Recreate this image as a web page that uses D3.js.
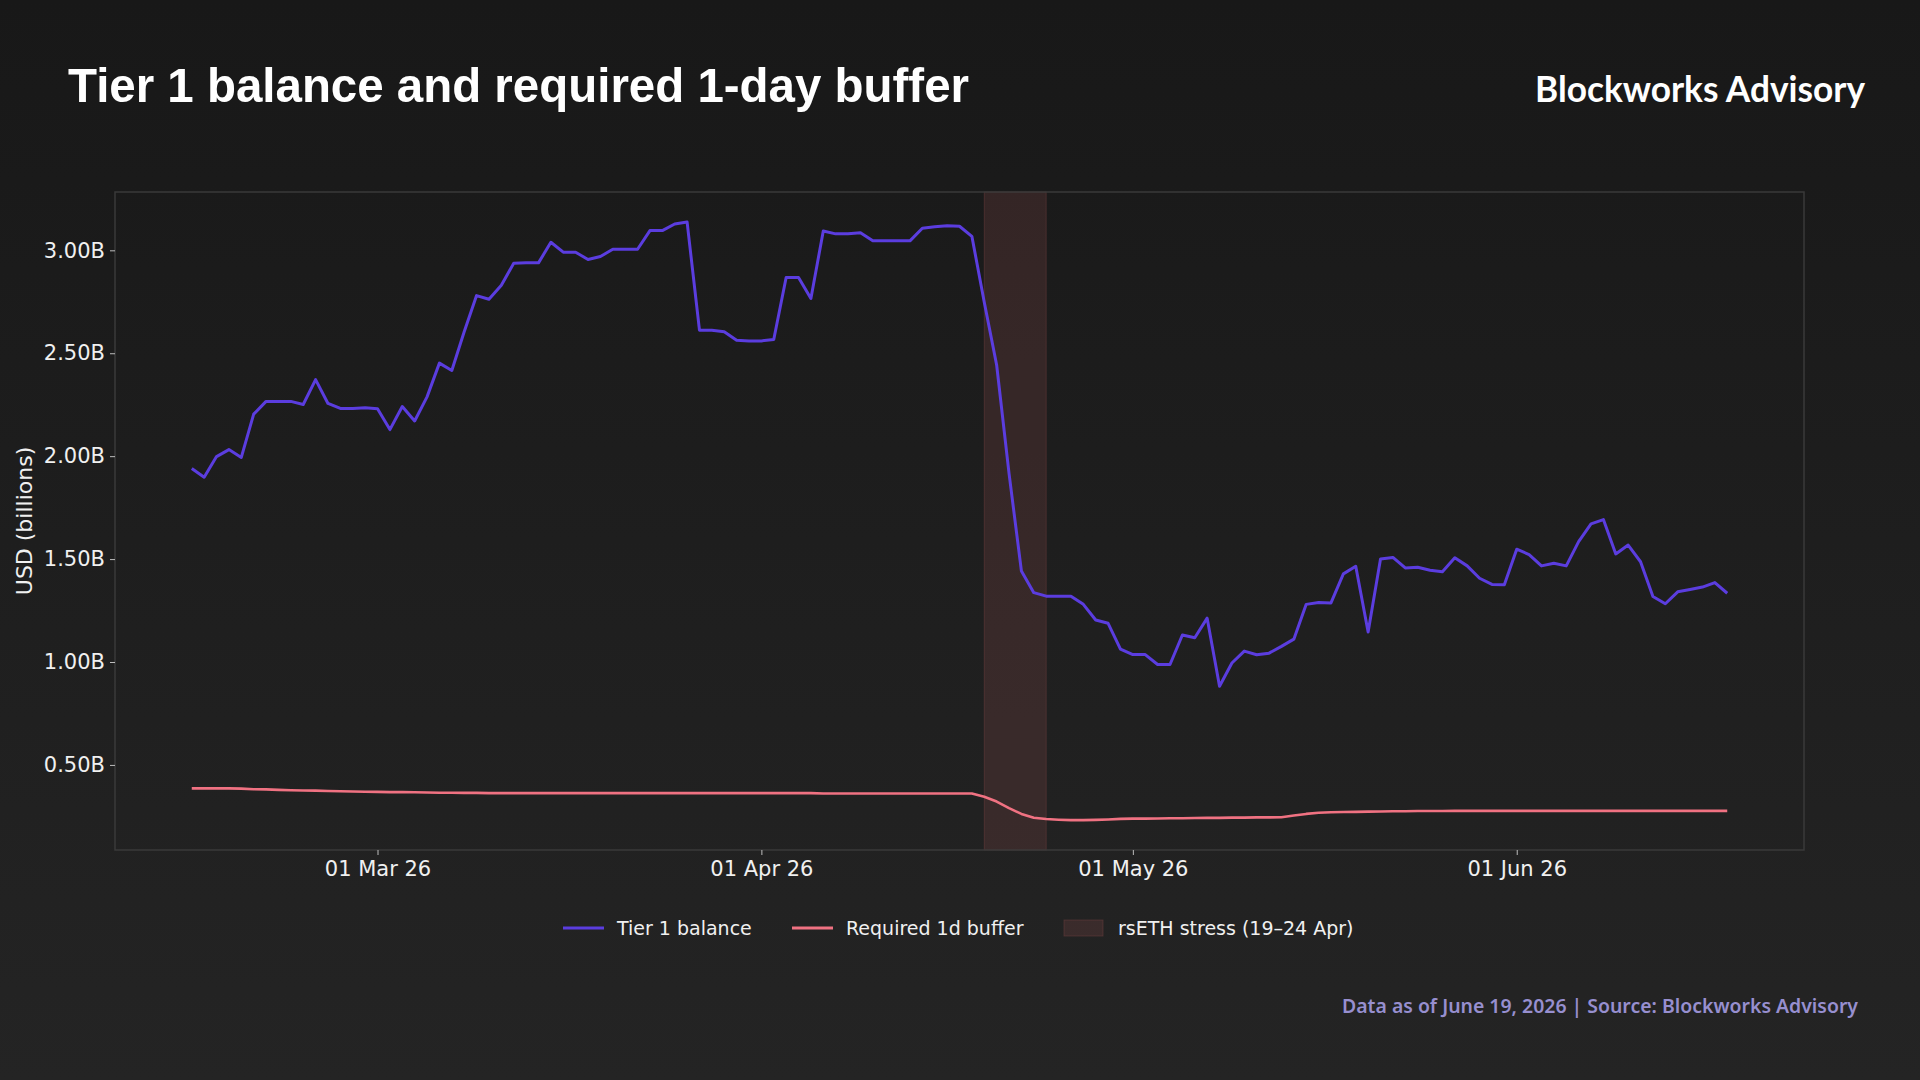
<!DOCTYPE html>
<html>
<head>
<meta charset="utf-8">
<script src="https://cdn.jsdelivr.net/npm/d3@7"></script>
<style>
  html, body { margin: 0; padding: 0; background: #1c1c1c; }
  svg { display: block; }
</style>
</head>
<body>
<svg id="chart" width="1920" height="1080"></svg>
<script>
// daily observations, 14 Feb 2026 .. 18 Jun 2026
const startDate = "2026-02-14";
const endDate = "2026-06-18";

// Tier 1 balance, USD billions
const tier1 = [
  1.940, 1.898, 1.998, 2.032, 1.994, 2.204, 2.266, 2.266, 2.266, 2.251,
  2.372, 2.256, 2.232, 2.232, 2.235, 2.230, 2.129, 2.241, 2.171, 2.288,
  2.452, 2.416, 2.604, 2.780, 2.762, 2.830, 2.937, 2.939, 2.939, 3.039,
  2.991, 2.991, 2.955, 2.970, 3.005, 3.005, 3.005, 3.096, 3.096, 3.128,
  3.138, 2.612, 2.612, 2.604, 2.563, 2.560, 2.560, 2.567, 2.868, 2.868,
  2.766, 3.094, 3.080, 3.080, 3.085, 3.046, 3.046, 3.046, 3.046, 3.107,
  3.114, 3.119, 3.117, 3.068, 2.748, 2.443, 1.916, 1.442, 1.337, 1.320,
  1.320, 1.320, 1.280, 1.204, 1.188, 1.063, 1.036, 1.036, 0.988, 0.988,
  1.131, 1.118, 1.213, 0.882, 0.995, 1.053, 1.035, 1.043, 1.076, 1.111,
  1.280, 1.289, 1.287, 1.428, 1.465, 1.146, 1.500, 1.508, 1.457, 1.460,
  1.446, 1.438, 1.506, 1.467, 1.407, 1.377, 1.375, 1.548, 1.522, 1.467,
  1.480, 1.467, 1.585, 1.671, 1.692, 1.525, 1.568, 1.487, 1.318, 1.283,
  1.341, 1.352, 1.364, 1.386, 1.334
];

// required 1-day buffer, USD billions
const buffer = [
  0.386, 0.386, 0.386, 0.386, 0.385, 0.382, 0.381, 0.379, 0.377, 0.376,
  0.375, 0.373, 0.372, 0.371, 0.370, 0.369, 0.368, 0.368, 0.367, 0.366,
  0.365, 0.365, 0.364, 0.364, 0.363, 0.363, 0.363, 0.363, 0.363, 0.363,
  0.363, 0.363, 0.363, 0.363, 0.363, 0.363, 0.363, 0.363, 0.363, 0.363,
  0.363, 0.363, 0.363, 0.363, 0.363, 0.363, 0.363, 0.363, 0.363, 0.363,
  0.363, 0.361, 0.361, 0.361, 0.361, 0.361, 0.361, 0.361, 0.361, 0.361,
  0.361, 0.361, 0.361, 0.361, 0.345, 0.322, 0.290, 0.262, 0.243, 0.237,
  0.234, 0.232, 0.232, 0.233, 0.235, 0.238, 0.239, 0.239, 0.240, 0.241,
  0.241, 0.242, 0.243, 0.243, 0.244, 0.244, 0.245, 0.245, 0.246, 0.254,
  0.262, 0.268, 0.270, 0.271, 0.272, 0.273, 0.274, 0.275, 0.275, 0.276,
  0.276, 0.276, 0.277, 0.277, 0.277, 0.277, 0.277, 0.277, 0.277, 0.277,
  0.277, 0.277, 0.277, 0.277, 0.277, 0.277, 0.277, 0.277, 0.277, 0.277,
  0.277, 0.277, 0.277, 0.277, 0.277
];

const stressStart = "2026-04-19";
const stressEnd = "2026-04-24";

const yTicks = [0.5, 1.0, 1.5, 2.0, 2.5, 3.0];
const xTicks = ["2026-03-01", "2026-04-01", "2026-05-01", "2026-06-01"];

const legendItems = ["Tier 1 balance", "Required 1d buffer", "rsETH stress (19\u201324 Apr)"];

const colors = {
  tier1: "#5b3ddf",
  buffer: "#f07282",
  stress: "#7a4444"
};

const parse = d3.utcParse("%Y-%m-%d");
const dates = d3.utcDay.range(parse(startDate), d3.utcDay.offset(parse(endDate), 1));
const rows = dates.map((d, i) => ({date: d, tier1: tier1[i], buffer: buffer[i]}));

const margin = {top: 192, right: 116, bottom: 230, left: 115};
const W = 1920, H = 1080;
const width = W - margin.left - margin.right,
  height = H - margin.top - margin.bottom;

const svg = d3.select("#chart");

// background
const defs = svg.append("defs");
const grad = defs.append("linearGradient")
  .attr("id", "bg").attr("x1", 0).attr("y1", 0).attr("x2", 0).attr("y2", 1);
grad.append("stop").attr("offset", "0%").attr("stop-color", "#181818");
grad.append("stop").attr("offset", "100%").attr("stop-color", "#242424");
svg.append("rect").attr("width", W).attr("height", H).attr("fill", "url(#bg)");

// x scale with a 5% pad on each side, like the source chart
const first = dates[0], last = dates[dates.length - 1];
const padMs = (last - first) * 0.05;
const x = d3.scaleUtc()
  .domain([new Date(+first - padMs), new Date(+last + padMs)])
  .range([0, width]);

const yMin = d3.min(buffer), yMax = d3.max(tier1);
const yPad = (yMax - yMin) * 0.05;
const y = d3.scaleLinear()
  .domain([yMin - yPad, yMax + yPad])
  .range([height, 0]);

const g = svg.append("g")
  .attr("transform", "translate(" + margin.left + "," + margin.top + ")");

// stress window
g.append("rect")
  .attr("x", x(parse(stressStart)))
  .attr("y", 0)
  .attr("width", x(parse(stressEnd)) - x(parse(stressStart)))
  .attr("height", height)
  .attr("fill", colors.stress)
  .attr("fill-opacity", 0.28)
  .attr("stroke", colors.stress)
  .attr("stroke-opacity", 0.4)
  .attr("stroke-width", 1);

// frame
g.append("rect")
  .attr("width", width).attr("height", height)
  .attr("fill", "none")
  .attr("stroke", "#3a3a3a")
  .attr("stroke-width", 1.5);

const tickFont = "'DejaVu Sans', sans-serif";

// axes
const xAxis = d3.axisBottom(x)
  .tickValues(xTicks.map(parse))
  .tickFormat(d3.utcFormat("%d %b %y"))
  .tickSize(5)
  .tickPadding(6);

const yAxis = d3.axisLeft(y)
  .tickValues(yTicks)
  .tickFormat(d => d3.format(".2f")(d) + "B")
  .tickSize(5)
  .tickPadding(5);

const gx = g.append("g")
  .attr("transform", "translate(0," + height + ")")
  .call(xAxis);
const gy = g.append("g").call(yAxis);

[gx, gy].forEach(a => {
  a.select(".domain").remove();
  a.selectAll(".tick line").attr("stroke", "#bdbdbd").attr("stroke-width", 1);
  a.selectAll(".tick text")
    .attr("fill", "#f0f0f0")
    .style("font-family", tickFont)
    .style("font-size", "21px");
});

// y label
g.append("text")
  .attr("transform", "translate(" + (24 - margin.left) + "," + (height / 2) + ") rotate(-90)")
  .attr("text-anchor", "middle")
  .attr("dominant-baseline", "central")
  .attr("fill", "#f0f0f0")
  .style("font-family", tickFont)
  .style("font-size", "22px")
  .text("USD (billions)");

// lines
const line = key => d3.line()
  .x(d => x(d.date))
  .y(d => y(d[key]));

g.append("path")
  .datum(rows)
  .attr("d", line("buffer"))
  .attr("fill", "none")
  .attr("stroke", colors.buffer)
  .attr("stroke-width", 2.6)
  .attr("stroke-linejoin", "round");

g.append("path")
  .datum(rows)
  .attr("d", line("tier1"))
  .attr("fill", "none")
  .attr("stroke", colors.tier1)
  .attr("stroke-width", 3)
  .attr("stroke-linejoin", "round");

// legend
const legend = svg.append("g").attr("transform", "translate(0,928)");
const legX = [563, 792, 1064];
legendItems.forEach((label, i) => {
  const item = legend.append("g").attr("transform", "translate(" + legX[i] + ",0)");
  if (i < 2) {
    item.append("line")
      .attr("x1", 0).attr("x2", 41).attr("y1", 0).attr("y2", 0)
      .attr("stroke", i === 0 ? colors.tier1 : colors.buffer)
      .attr("stroke-width", 3);
  } else {
    item.append("rect")
      .attr("x", 0).attr("y", -8).attr("width", 39).attr("height", 16)
      .attr("fill", colors.stress).attr("fill-opacity", 0.28)
      .attr("stroke", colors.stress).attr("stroke-opacity", 0.4);
  }
  item.append("text")
    .attr("x", 54)
    .attr("dominant-baseline", "central")
    .attr("fill", "#f0f0f0")
    .style("font-family", tickFont)
    .style("font-size", "19px")
    .text(label);
});

// title, brand, footer
svg.append("text")
  .attr("x", 68).attr("y", 102)
  .attr("fill", "#ffffff")
  .attr("textLength", 901)
  .attr("lengthAdjust", "spacingAndGlyphs")
  .style("font-family", "'Liberation Sans', Arial, sans-serif")
  .style("font-weight", "bold")
  .style("font-size", "49px")
  .text("Tier 1 balance and required 1-day buffer");

svg.append("text")
  .attr("x", 1865).attr("y", 102)
  .attr("text-anchor", "end")
  .attr("fill", "#ffffff")
  .attr("textLength", 330)
  .attr("lengthAdjust", "spacingAndGlyphs")
  .style("font-family", "Lato, sans-serif")
  .style("font-weight", 700)
  .style("font-size", "36px")
  .text("Blockworks Advisory");

svg.append("text")
  .attr("x", 1858).attr("y", 1013)
  .attr("text-anchor", "end")
  .attr("fill", "#978fcf")
  .attr("textLength", 516)
  .attr("lengthAdjust", "spacingAndGlyphs")
  .style("font-family", "'Noto Sans', sans-serif")
  .style("font-weight", 600)
  .style("font-size", "20px")
  .text("Data as of June 19, 2026 | Source: Blockworks Advisory");
</script>
</body>
</html>
